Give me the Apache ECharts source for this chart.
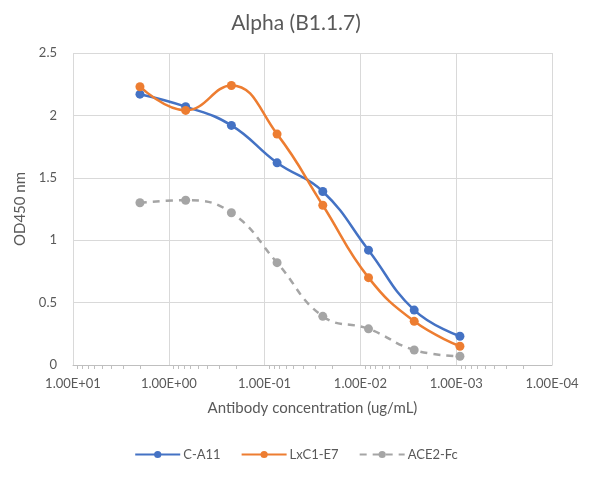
<!DOCTYPE html>
<html>
<head>
<meta charset="utf-8">
<script src="https://cdn.jsdelivr.net/npm/echarts@6/dist/echarts.min.js"></script>
<style>
html,body{margin:0;padding:0;background:#fff;}
#chart{width:592px;height:479px;}
</style>
</head>
<body>
<div id="chart"></div>
<script>
const concentrations = [2, 0.6667, 0.2222, 0.07407, 0.02469, 0.00823, 0.002743, 0.000914];
const seriesNames = ['C-A11', 'LxC1-E7', 'ACE2-Fc'];
const cA11 = [2.17, 2.07, 1.92, 1.62, 1.39, 0.92, 0.44, 0.23];
const lxC1E7 = [2.23, 2.04, 2.24, 1.85, 1.28, 0.70, 0.35, 0.15];
const ace2Fc = [1.30, 1.32, 1.22, 0.82, 0.39, 0.29, 0.12, 0.07];
const yTicks = [0, 0.5, 1, 1.5, 2, 2.5];
const xDecades = [1, 0, -1, -2, -3, -4];

const FONT = 'Lato, "Open Sans", sans-serif';
const TXT = '#595959';

function pairs(vals){ return concentrations.map((c,i)=>[c, vals[i]]); }

// minor tick positions (2..9 x 10^d) for the log axis
const minorTicks = [];
for (let d = -4; d < 1; d++) {
  for (let k = 2; k <= 9; k++) minorTicks.push([k * Math.pow(10, d), 0]);
}

function fmtExp(v){
  const e = Math.round(Math.log10(v));
  const a = Math.abs(e);
  return '1.00E' + (e < 0 ? '-' : '+') + (a < 10 ? '0' + a : '' + a);
}

const chart = echarts.init(document.getElementById('chart'), null, {renderer:'canvas'});
const baseLine = (name, data, color, dashed) => ({
  name: name,
  type: 'line',
  data: pairs(data),
  smooth: 0.45,
  symbol: 'circle',
  symbolSize: 9,
  showSymbol: true,
  itemStyle: {color: color},
  lineStyle: {color: color, width: 2.5, type: dashed ? [7, 6] : 'solid'},
  z: 3
});

chart.setOption({
  animation: false,
  backgroundColor: '#fff',
  title: {
    text: 'Alpha (B1.1.7)',
    left: 'center',
    top: 8,
    textStyle: {fontFamily: FONT, fontSize: 21, fontWeight: 'normal', color: TXT}
  },
  grid: {left: 73, right: 40, top: 53, bottom: 114, containLabel: false},
  legend: {
    data: seriesNames,
    bottom: 13,
    left: 'center',
    itemWidth: 45,
    itemHeight: 9,
    itemGap: 20,
    textStyle: {fontFamily: FONT, fontSize: 13, color: TXT, padding: [0,0,0,-2]}
  },
  xAxis: {
    type: 'log',
    logBase: 10,
    inverse: true,
    min: Math.pow(10, xDecades[xDecades.length-1]),
    max: Math.pow(10, xDecades[0]),
    name: 'Antibody concentration (ug/mL)',
    nameLocation: 'middle',
    nameGap: 36,
    nameTextStyle: {fontFamily: FONT, fontSize: 15, color: TXT},
    axisLine: {show: true, onZero: false, lineStyle: {color: '#bfbfbf', width: 1}},
    axisTick: {show: false},
    axisLabel: {fontFamily: FONT, fontSize: 13, color: TXT, margin: 12, formatter: fmtExp},
    splitLine: {show: true, lineStyle: {color: '#d9d9d9', width: 1}}
  },
  yAxis: {
    type: 'value',
    min: yTicks[0],
    max: yTicks[yTicks.length-1],
    interval: 0.5,
    name: 'OD450 nm',
    nameLocation: 'middle',
    nameGap: 42,
    nameTextStyle: {fontFamily: FONT, fontSize: 15, color: TXT},
    axisLine: {show: false},
    axisTick: {show: false},
    axisLabel: {fontFamily: FONT, fontSize: 13, color: TXT, margin: 16},
    splitLine: {show: true, lineStyle: {color: '#d9d9d9', width: 1}}
  },
  series: [
    baseLine(seriesNames[0], cA11, '#4472C4', false),
    baseLine(seriesNames[1], lxC1E7, '#ED7D31', false),
    baseLine(seriesNames[2], ace2Fc, '#A5A5A5', true),
    {
      type: 'custom',
      name: 'minorTicks',
      silent: true,
      data: minorTicks,
      clip: false,
      z: 1,
      renderItem: function(params, api){
        const p = api.coord([api.value(0), api.value(1)]);
        return {
          type: 'line',
          shape: {x1: Math.round(p[0]) + 0.5, y1: p[1], x2: Math.round(p[0]) + 0.5, y2: p[1] + 4},
          style: {stroke: '#bfbfbf', lineWidth: 1}
        };
      }
    }
  ]
});
</script>
</body>
</html>
